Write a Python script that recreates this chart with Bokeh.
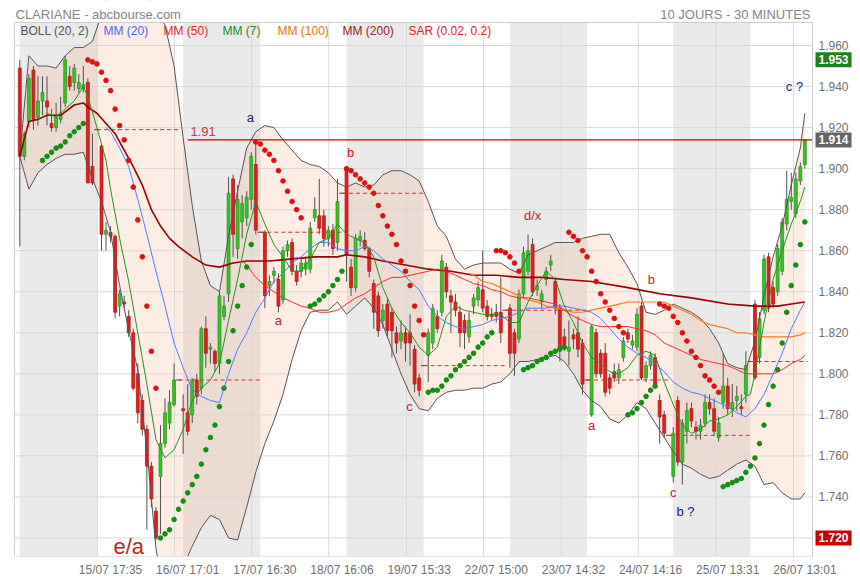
import numpy as np
from bokeh.plotting import figure
from bokeh.models import FixedTicker, Label
from bokeh.core.properties import value
from bokeh.embed import file_html
from bokeh.resources import INLINE

FONT = "Liberation Sans"

# ---------------- data ----------------
title_left = "CLARIANE - abcbourse.com"
title_right = "10 JOURS - 30 MINUTES"
x_labels = ["15/07 17:35", "16/07 17:01", "17/07 16:30", "18/07 16:06", "19/07 15:33",
            "22/07 15:00", "23/07 14:32", "24/07 14:16", "25/07 13:31", "26/07 13:01"]
x_grid_bars = [17.1, 34.1, 51.1, 68.1, 85.2, 102.2, 119.3, 136.3, 153.4, 170.5]
y_ticks = [1.720, 1.740, 1.760, 1.780, 1.800, 1.820, 1.840, 1.860, 1.880, 1.900, 1.920, 1.940, 1.960]
bars_per_day = 18
shaded_days = [0, 2, 4, 6, 8]

open_ = [
    1.949, 1.906, 1.923, 1.948, 1.925, 1.933, 1.933, 1.922, 1.920, 1.924, 1.932, 1.945, 1.942, 1.939, 1.939, 1.942, 1.901, 1.919,
    1.911, 1.868, 1.869, 1.867, 1.833, 1.835, 1.828, 1.820, 1.800, 1.787, 1.773, 1.755, 1.733, 1.750, 1.766, 1.776, 1.785, 1.797,
    1.783, 1.781, 1.780, 1.797, 1.793, 1.822, 1.812, 1.811, 1.805, 1.828, 1.839, 1.895, 1.861, 1.874, 1.876, 1.885, 1.902, 1.869,
    1.869, 1.843, 1.848, 1.846, 1.836, 1.860, 1.864, 1.850, 1.850, 1.851, 1.851, 1.876, 1.877, 1.877, 1.866, 1.870, 1.864, 1.888,
    1.900, 1.852, 1.842, 1.865, 1.865, 1.861, 1.844, 1.838, 1.826, 1.834, 1.830, 1.820, 1.816, 1.820, 1.820, 1.812, 1.798, 1.804,
    1.809, 1.815, 1.828, 1.830, 1.852, 1.838, 1.835, 1.830, 1.826, 1.818, 1.833, 1.836, 1.841, 1.833, 1.829, 1.830, 1.830, 1.831,
    1.832, 1.820, 1.817, 1.839, 1.850, 1.863, 1.841, 1.835, 1.846, 1.853, 1.845, 1.832, 1.818, 1.811, 1.819, 1.820, 1.815, 1.797,
    1.780, 1.820, 1.810, 1.810, 1.798, 1.801, 1.798, 1.808, 1.820, 1.814, 1.813, 1.833, 1.798, 1.804, 1.808, 1.787, 1.780, 1.770,
    1.750, 1.787, 1.757, 1.772, 1.783, 1.774, 1.772, 1.776, 1.786, 1.783, 1.769, 1.786, 1.794, 1.783, 1.787, 1.784, 1.790, 1.806,
    1.834, 1.808, 1.831, 1.857, 1.842, 1.840, 1.850, 1.873, 1.884, 1.878, 1.894, 1.902,
]
high = [
    1.953, 1.918, 1.946, 1.950, 1.945, 1.945, 1.945, 1.929, 1.932, 1.935, 1.955, 1.950, 1.951, 1.946, 1.950, 1.944, 1.917, 1.919,
    1.912, 1.874, 1.872, 1.868, 1.841, 1.838, 1.831, 1.822, 1.805, 1.790, 1.775, 1.757, 1.735, 1.775, 1.788, 1.792, 1.805, 1.797,
    1.790, 1.795, 1.798, 1.800, 1.823, 1.828, 1.815, 1.812, 1.840, 1.838, 1.896, 1.897, 1.892, 1.887, 1.889, 1.908, 1.913, 1.869,
    1.870, 1.848, 1.852, 1.849, 1.862, 1.865, 1.866, 1.853, 1.856, 1.857, 1.874, 1.886, 1.895, 1.880, 1.872, 1.873, 1.895, 1.888,
    1.901, 1.856, 1.868, 1.870, 1.869, 1.862, 1.846, 1.840, 1.834, 1.837, 1.832, 1.823, 1.826, 1.823, 1.829, 1.814, 1.800, 1.804,
    1.822, 1.834, 1.831, 1.858, 1.854, 1.841, 1.839, 1.833, 1.829, 1.830, 1.839, 1.845, 1.860, 1.836, 1.832, 1.834, 1.847, 1.831,
    1.834, 1.822, 1.841, 1.862, 1.868, 1.866, 1.846, 1.841, 1.852, 1.858, 1.847, 1.834, 1.822, 1.826, 1.822, 1.828, 1.817, 1.797,
    1.824, 1.822, 1.812, 1.815, 1.800, 1.805, 1.805, 1.818, 1.822, 1.819, 1.832, 1.835, 1.806, 1.811, 1.810, 1.790, 1.782, 1.770,
    1.774, 1.789, 1.778, 1.786, 1.786, 1.777, 1.778, 1.790, 1.790, 1.788, 1.779, 1.810, 1.798, 1.795, 1.794, 1.790, 1.811, 1.806,
    1.836, 1.830, 1.858, 1.859, 1.845, 1.863, 1.876, 1.899, 1.898, 1.898, 1.903, 1.914,
]
low = [
    1.862, 1.904, 1.920, 1.919, 1.921, 1.926, 1.921, 1.918, 1.918, 1.922, 1.930, 1.938, 1.938, 1.937, 1.937, 1.893, 1.892, 1.919,
    1.860, 1.860, 1.864, 1.827, 1.828, 1.832, 1.818, 1.792, 1.776, 1.770, 1.724, 1.735, 1.719, 1.722, 1.764, 1.773, 1.784, 1.797,
    1.761, 1.770, 1.776, 1.785, 1.790, 1.803, 1.805, 1.801, 1.800, 1.826, 1.835, 1.857, 1.856, 1.866, 1.872, 1.880, 1.868, 1.869,
    1.832, 1.838, 1.844, 1.830, 1.834, 1.857, 1.848, 1.843, 1.847, 1.848, 1.849, 1.874, 1.868, 1.862, 1.862, 1.858, 1.860, 1.888,
    1.845, 1.838, 1.840, 1.862, 1.860, 1.847, 1.822, 1.818, 1.822, 1.818, 1.808, 1.810, 1.812, 1.806, 1.804, 1.791, 1.789, 1.804,
    1.796, 1.812, 1.820, 1.828, 1.837, 1.820, 1.828, 1.813, 1.812, 1.815, 1.829, 1.833, 1.830, 1.826, 1.826, 1.825, 1.815, 1.831,
    1.803, 1.799, 1.815, 1.837, 1.848, 1.838, 1.838, 1.832, 1.843, 1.850, 1.829, 1.806, 1.811, 1.804, 1.812, 1.808, 1.790, 1.797,
    1.779, 1.798, 1.798, 1.789, 1.790, 1.796, 1.795, 1.806, 1.815, 1.812, 1.811, 1.797, 1.796, 1.802, 1.793, 1.766, 1.769, 1.770,
    1.747, 1.755, 1.746, 1.766, 1.774, 1.768, 1.768, 1.774, 1.780, 1.770, 1.767, 1.783, 1.780, 1.779, 1.782, 1.780, 1.786, 1.806,
    1.797, 1.805, 1.829, 1.830, 1.832, 1.838, 1.848, 1.870, 1.880, 1.876, 1.892, 1.900,
]
close = [
    1.906, 1.917, 1.944, 1.924, 1.933, 1.937, 1.930, 1.920, 1.925, 1.927, 1.953, 1.940, 1.949, 1.942, 1.941, 1.893, 1.893, 1.919,
    1.868, 1.870, 1.867, 1.830, 1.839, 1.834, 1.820, 1.793, 1.781, 1.773, 1.755, 1.739, 1.720, 1.766, 1.781, 1.786, 1.797, 1.797,
    1.782, 1.772, 1.797, 1.789, 1.822, 1.810, 1.813, 1.805, 1.838, 1.833, 1.888, 1.868, 1.885, 1.883, 1.886, 1.906, 1.870, 1.869,
    1.838, 1.845, 1.850, 1.833, 1.860, 1.863, 1.850, 1.845, 1.854, 1.854, 1.871, 1.880, 1.871, 1.866, 1.870, 1.861, 1.884, 1.888,
    1.858, 1.842, 1.866, 1.867, 1.861, 1.850, 1.830, 1.821, 1.831, 1.821, 1.821, 1.815, 1.820, 1.815, 1.815, 1.795, 1.792, 1.804,
    1.820, 1.832, 1.822, 1.855, 1.840, 1.835, 1.831, 1.820, 1.820, 1.826, 1.837, 1.842, 1.832, 1.828, 1.828, 1.828, 1.820, 1.831,
    1.810, 1.810, 1.839, 1.859, 1.860, 1.840, 1.843, 1.839, 1.850, 1.855, 1.832, 1.813, 1.814, 1.813, 1.817, 1.812, 1.795, 1.797,
    1.823, 1.800, 1.800, 1.791, 1.793, 1.798, 1.802, 1.816, 1.817, 1.816, 1.829, 1.798, 1.804, 1.809, 1.795, 1.779, 1.771, 1.770,
    1.771, 1.757, 1.776, 1.782, 1.777, 1.772, 1.775, 1.786, 1.783, 1.772, 1.776, 1.794, 1.783, 1.786, 1.789, 1.783, 1.804, 1.806,
    1.798, 1.827, 1.856, 1.832, 1.834, 1.861, 1.874, 1.885, 1.886, 1.895, 1.901, 1.914,
]
N = None
sar = [
    N, N, N, N, N,
    1.904, 1.906, 1.908, 1.910, 1.911, 1.913, 1.916, 1.918, 1.920, 1.922,
    1.953, 1.952, 1.951, 1.947, 1.943, 1.938, 1.929, 1.921, 1.914, 1.904, 1.891, 1.875, 1.857, 1.833, 1.811, 1.793,
    1.720, 1.722, 1.724, 1.729, 1.734, 1.738, 1.742, 1.746, 1.750, 1.756, 1.763, 1.769, 1.775, 1.784, 1.793,
    1.806, 1.821, 1.833, 1.843, 1.852, 1.863,
    1.913, 1.912, 1.909, 1.907, 1.904, 1.899, 1.894, 1.889, 1.884, 1.880, 1.876,
    N,
    1.833, 1.834, 1.836, 1.838, 1.840, 1.843, 1.846, 1.850,
    1.900, 1.899, 1.897, 1.895, 1.893, 1.891, 1.888, 1.882, 1.877, 1.872, 1.868, 1.863, 1.855, 1.850, 1.843,
    1.833, 1.826, 1.819,
    1.791, 1.792, 1.792, 1.794, 1.797, 1.799, 1.802, 1.804, 1.806, 1.808, 1.810, 1.813, 1.815, 1.818, 1.820,
    1.860, 1.860, 1.859, 1.857, 1.854, 1.850,
    1.802, 1.803, 1.804, 1.806, 1.807, 1.808, 1.810, 1.811, 1.812, 1.813,
    1.869, 1.867, 1.865, 1.860, 1.857, 1.850, 1.845, 1.839, 1.835, 1.831, 1.827, 1.823, 1.820,
    1.780, 1.781, 1.783, 1.786, 1.789, 1.792, 1.794,
    1.834, 1.833, 1.832, 1.828, 1.825, 1.820, 1.816, 1.811, 1.808, 1.804, 1.799, 1.797, 1.794, 1.791,
    1.745, 1.746, 1.747, 1.748, 1.749, 1.752, 1.755, 1.759, 1.766, 1.775, 1.785, 1.794, 1.802, 1.815,
    1.830, 1.843, 1.853, 1.863, 1.874,
]

boll_bars = [0, 2, 4, 6, 8, 10, 12, 14, 16, 18,
             20, 22, 24, 26, 28, 30, 32, 34, 36, 38,
             40, 42, 44, 46, 48, 50, 52, 54, 56, 58,
             60, 62, 64, 66, 68, 70, 72, 74, 76, 78,
             80, 82, 84, 86, 88, 90, 92, 94, 96, 98,
             100, 102, 104, 106, 108, 110, 112, 114, 116, 118,
             120, 122, 124, 126, 128, 130, 132, 134, 136, 138,
             140, 142, 144, 146, 148, 150, 152, 154, 156, 158,
             160, 162, 164, 166, 168, 170, 172, 173]
boll_upper = [1.906, 1.955, 1.950, 1.950, 1.949, 1.955, 1.959, 1.959, 1.962, 1.975,
              1.990, 2.000, 2.000, 1.995, 1.985, 1.977, 1.970, 1.950, 1.915, 1.882,
              1.855, 1.843, 1.840, 1.867, 1.889, 1.910, 1.918, 1.921, 1.920, 1.914,
              1.909, 1.904, 1.902, 1.901, 1.898, 1.893, 1.891, 1.893, 1.891, 1.892,
              1.897, 1.899, 1.899, 1.897, 1.894, 1.884, 1.872, 1.867, 1.856, 1.851,
              1.853, 1.854, 1.854, 1.854, 1.851, 1.849, 1.858, 1.860, 1.862, 1.864,
              1.864, 1.864, 1.866, 1.867, 1.868, 1.868, 1.859, 1.852, 1.844, 1.830,
              1.829, 1.831, 1.834, 1.832, 1.830, 1.827, 1.822, 1.815, 1.805, 1.803,
              1.802, 1.816, 1.838, 1.857, 1.872, 1.892, 1.910, 1.927]
boll_lower = [1.906, 1.890, 1.898, 1.902, 1.905, 1.907, 1.907, 1.908, 1.895, 1.884,
              1.869, 1.843, 1.821, 1.802, 1.763, 1.715, 1.690, 1.690, 1.706, 1.716,
              1.725, 1.731, 1.729, 1.720, 1.719, 1.735, 1.752, 1.766, 1.777, 1.790,
              1.807, 1.821, 1.830, 1.831, 1.831, 1.835, 1.829, 1.833, 1.837, 1.832,
              1.824, 1.812, 1.800, 1.790, 1.783, 1.782, 1.788, 1.791, 1.792, 1.792,
              1.793, 1.793, 1.795, 1.796, 1.800, 1.806, 1.806, 1.807, 1.808, 1.809,
              1.806, 1.800, 1.792, 1.787, 1.784, 1.778, 1.776, 1.780, 1.786, 1.783,
              1.776, 1.769, 1.762, 1.756, 1.754, 1.751, 1.749, 1.750, 1.753, 1.756,
              1.758, 1.755, 1.746, 1.747, 1.742, 1.739, 1.739, 1.742]

mm20_bars = [19, 20, 22, 24, 26, 28, 30, 32, 34, 36,
             38, 40, 42, 44, 46, 48, 50, 52, 54, 56,
             58, 60, 62, 64, 66, 68, 70, 72, 74, 76,
             78, 80, 82, 84, 86, 88, 90, 92, 94, 96,
             98, 100, 102, 104, 106, 108, 110, 112, 114, 116,
             118, 120, 122, 124, 126, 128, 130, 132, 134, 136,
             138, 140, 142, 144, 146, 148, 150, 152, 154, 156,
             158, 160, 161, 162, 164, 166, 168, 170, 172, 173]
mm20 = [1.920, 1.918, 1.910, 1.901, 1.885, 1.868, 1.850, 1.833, 1.815, 1.803,
        1.792, 1.789, 1.787, 1.786, 1.800, 1.812, 1.820, 1.830, 1.837, 1.845,
        1.849, 1.854, 1.857, 1.861, 1.864, 1.864, 1.861, 1.860, 1.860, 1.862,
        1.860, 1.856, 1.853, 1.850, 1.845, 1.841, 1.833, 1.828, 1.825, 1.823,
        1.822, 1.823, 1.824, 1.826, 1.827, 1.828, 1.830, 1.832, 1.832, 1.832,
        1.833, 1.833, 1.832, 1.831, 1.830, 1.827, 1.822, 1.817, 1.813, 1.810,
        1.808, 1.805, 1.801, 1.796, 1.793, 1.791, 1.790, 1.788, 1.786, 1.784,
        1.781, 1.779, 1.781, 1.783, 1.790, 1.800, 1.810, 1.822, 1.831, 1.835]

mm7_bars = [6, 8, 10, 12, 14, 15, 17, 19, 20, 22,
            24, 26, 28, 30, 32, 34, 36, 38, 40, 42,
            44, 46, 48, 50, 52, 54, 56, 58, 60, 62,
            64, 66, 68, 70, 72, 74, 76, 78, 80, 82,
            84, 86, 88, 90, 92, 94, 96, 98, 100, 102,
            104, 106, 108, 110, 112, 114, 116, 118, 120, 122,
            124, 126, 128, 130, 132, 134, 136, 138, 140, 142,
            144, 146, 148, 150, 152, 154, 156, 158, 160, 161,
            162, 164, 166, 168, 170, 172, 173]
mm7 = [1.927, 1.925, 1.929, 1.933, 1.940, 1.935, 1.920, 1.904, 1.890, 1.866,
       1.845, 1.820, 1.795, 1.768, 1.759, 1.763, 1.773, 1.787, 1.793, 1.797,
       1.805, 1.826, 1.846, 1.868, 1.884, 1.873, 1.863, 1.857, 1.850, 1.850,
       1.856, 1.864, 1.866, 1.873, 1.868, 1.866, 1.864, 1.857, 1.842, 1.832,
       1.825, 1.820, 1.813, 1.809, 1.813, 1.828, 1.833, 1.831, 1.830, 1.829,
       1.829, 1.829, 1.825, 1.825, 1.835, 1.843, 1.850, 1.846, 1.833, 1.825,
       1.815, 1.808, 1.805, 1.801, 1.800, 1.803, 1.809, 1.811, 1.809, 1.796,
       1.785, 1.775, 1.771, 1.773, 1.777, 1.778, 1.780, 1.784, 1.789, 1.790,
       1.800, 1.825, 1.846, 1.860, 1.873, 1.884, 1.891]

mm50_bars = [49, 50, 52, 54, 56, 58, 60, 62, 64, 66,
             68, 70, 72, 74, 76, 78, 80, 82, 84, 86,
             88, 90, 92, 94, 96, 98, 100, 102, 104, 106,
             108, 110, 112, 114, 116, 118, 120, 122, 124, 126,
             128, 130, 134, 136, 138, 140, 142, 144, 146, 148,
             150, 152, 154, 156, 158, 160, 162, 164, 166, 168,
             170, 172, 173]
mm50 = [1.855, 1.853, 1.847, 1.843, 1.840, 1.837, 1.835, 1.833, 1.832, 1.830,
        1.830, 1.831, 1.834, 1.837, 1.839, 1.842, 1.845, 1.847, 1.847, 1.848,
        1.849, 1.850, 1.851, 1.850, 1.848, 1.846, 1.844, 1.843, 1.841, 1.840,
        1.838, 1.837, 1.837, 1.836, 1.835, 1.834, 1.831, 1.828, 1.826, 1.824,
        1.823, 1.823, 1.823, 1.822, 1.821, 1.819, 1.815, 1.813, 1.811, 1.809,
        1.807, 1.806, 1.805, 1.804, 1.802, 1.800, 1.800, 1.800, 1.800, 1.802,
        1.805, 1.807, 1.809]

mm100_bars = [99, 100, 102, 104, 106, 108, 110, 112, 114, 116,
              118, 120, 122, 124, 126, 128, 130, 132, 134, 136,
              138, 140, 142, 144, 146, 148, 150, 152, 154, 156,
              158, 160, 162, 164, 166, 168, 170, 172, 173]
mm100 = [1.849, 1.848, 1.845, 1.844, 1.842, 1.840, 1.838, 1.836, 1.835, 1.833,
         1.832, 1.831, 1.830, 1.830, 1.831, 1.832, 1.833, 1.834, 1.835, 1.835,
         1.835, 1.835, 1.835, 1.833, 1.831, 1.829, 1.826, 1.824, 1.823, 1.822,
         1.820, 1.820, 1.819, 1.818, 1.818, 1.818, 1.818, 1.819, 1.820]

mm200_bars = [0, 2, 4, 6, 9, 12, 14, 15, 17, 19,
              21, 23, 25, 27, 29, 31, 33, 35, 38, 41,
              44, 47, 50, 55, 60, 65, 70, 72, 76, 80,
              85, 90, 95, 100, 105, 110, 115, 120, 126, 134,
              141, 148, 156, 162, 167, 170, 173]
mm200 = [1.906, 1.923, 1.924, 1.926, 1.926, 1.931, 1.932, 1.930, 1.927, 1.922,
         1.917, 1.909, 1.901, 1.892, 1.880, 1.872, 1.866, 1.862, 1.857, 1.853,
         1.852, 1.854, 1.855, 1.855, 1.856, 1.857, 1.857, 1.858, 1.857, 1.855,
         1.853, 1.851, 1.850, 1.848, 1.848, 1.847, 1.847, 1.846, 1.845, 1.842,
         1.839, 1.837, 1.834, 1.833, 1.833, 1.834, 1.835]

level_price = 1.914
level_text = "1.91"
level_start_bar = 37
box_high = 1.953
box_last = 1.914
box_low = 1.720

wave_texts = ["a", "b", "a", "c", "d/x", "b", "a", "c", "b ?", "c ?", "e/a"]
wave_bars = [50.8, 72.9, 57.0, 85.9, 113.0, 139.2, 126.0, 144.0, 146.7, 170.7, 24.0]
wave_prices = [1.925, 1.908, 1.826, 1.784, 1.877, 1.846, 1.775, 1.742, 1.733, 1.940, 1.716]
wave_colors = ["#1c1c8a", "#cc2020", "#cc2020", "#cc2020", "#cc2020", "#cc2020",
               "#cc2020", "#cc2020", "#1c1c8a", "#1c1c8a", "#cc2020"]
wave_sizes = ["13px"] * 10 + ["22px"]

legend_items = ["BOLL (20, 2)", "MM (20)", "MM (50)", "MM (7)", "MM (100)", "MM (200)", "SAR (0.02, 0.2)"]
legend_colors = ["#555555", "#3d6cf0", "#ee2222", "#208a20", "#f07010", "#992020", "#dd2222"]

for arr in (open_, high, low, close, sar):
    assert len(arr) == 174, len(arr)
assert len(boll_bars) == len(boll_upper) == len(boll_lower)
assert len(mm20_bars) == len(mm20)
assert len(mm7_bars) == len(mm7)
assert len(mm50_bars) == len(mm50)
assert len(mm100_bars) == len(mm100)
assert len(mm200_bars) == len(mm200)

# ---------------- layout helpers (image pixel -> data, for placement only) ----------------
BAR0_PX, BAR_PX = 19.3, 4.538
Y0_PX, Y_PX = 45.0, 2052.0


def px_x(px):
    return (px - BAR0_PX) / BAR_PX


def px_y(py):
    return 1.960 - (py - Y0_PX) / Y_PX


# drawing area = x 0..856, y 0..556 ; chart box = x 14..812, y 22..556
XR = (px_x(0), px_x(856))
YR = (px_y(556), px_y(0))
CL, CR = px_x(14), px_x(812)
CB, CT = YR[0], px_y(22)

p = figure(frame_width=856, frame_height=556, x_range=XR, y_range=YR,
           y_axis_location=None, toolbar_location=None, output_backend="svg",
           min_border_left=0, min_border_right=0, min_border_top=0, min_border_bottom=20)
p.background_fill_color = "white"
p.border_fill_color = "white"
p.outline_line_color = None
p.grid.visible = False

# x axis (library axis, labels at tick positions)
label_ticks = [int(round(b + 2.9)) for b in x_grid_bars]
p.xaxis.ticker = FixedTicker(ticks=label_ticks)
p.xaxis.major_label_overrides = {t: s for t, s in zip(label_ticks, x_labels)}
p.xaxis.axis_line_color = None
p.xaxis.major_tick_line_color = None
p.xaxis.minor_tick_line_color = None
p.xaxis.major_tick_out = 0
p.xaxis.major_tick_in = 0
p.xaxis.minor_tick_out = 0
p.xaxis.major_label_text_font = FONT
p.xaxis.major_label_text_font_size = "12px"
p.xaxis.major_label_text_color = "#707070"
p.xaxis.major_label_standoff = 6

# shaded days
day_left = [d * bars_per_day for d in shaded_days]
day_right = [d * bars_per_day + bars_per_day - 1 for d in shaded_days]
p.quad(left=day_left, right=day_right, bottom=CB, top=CT,
       fill_color="#eaeaea", line_color=None, level="image")

# Bollinger fill
p.varea(x=boll_bars, y1=boll_lower, y2=boll_upper, fill_color="#f0905a",
        fill_alpha=0.16, level="image")

# grid inside the chart box
p.segment(x0=CL, x1=CR, y0=y_ticks, y1=y_ticks, line_color="#d9d9d9", line_width=1, level="underlay")
p.segment(x0=x_grid_bars, x1=x_grid_bars, y0=CB, y1=CT, line_color="#d9d9d9", line_width=1, level="underlay")

# candles
n = len(close)
idx = np.arange(n)
o, h, lo, c = (np.array(a, dtype=float) for a in (open_, high, low, close))
doji = h == lo
reg = ~doji
col = np.where(c >= o, "#3cbf2c", "#e02020")
lcol = np.where(c >= o, "#2a9a20", "#b81818")
p.segment(x0=idx[reg], y0=lo[reg], x1=idx[reg], y1=h[reg], line_color="#505050", line_width=1)
p.vbar(x=idx[reg], width=0.64, top=np.maximum(o, c)[reg], bottom=np.minimum(o, c)[reg],
       fill_color=col[reg], line_color=lcol[reg], line_width=0.8)
p.segment(x0=idx[doji] - 0.6, y0=c[doji], x1=idx[doji] + 0.6, y1=c[doji],
          line_color="#444444", line_width=1)

# previous-close dashed lines
pc_bars = idx[doji]
pc_x0 = [float(b) for b in pc_bars]
pc_x1 = [min(float(b) + bars_per_day, n - 0.4) for b in pc_bars]
pc_y = [c[b] for b in pc_bars]
p.segment(x0=pc_x0, y0=pc_y, x1=pc_x1, y1=pc_y, line_color="#e02828",
          line_width=1, line_dash="4 3")

# indicators
p.line(boll_bars, boll_upper, line_color="#555555", line_width=1)
p.line(boll_bars, boll_lower, line_color="#555555", line_width=1)
p.line(mm200_bars, mm200, line_color="#9a0000", line_width=1.6)
p.line(mm100_bars, mm100, line_color="#ff7a1a", line_width=1.2)
p.line(mm50_bars, mm50, line_color="#ff2a2a", line_width=1)
p.line(mm20_bars, mm20, line_color="#4d7cff", line_width=1)
p.line(mm7_bars, mm7, line_color="#1e951e", line_width=1)

# level line
p.segment(x0=[level_start_bar], y0=[level_price], x1=[CR], y1=[level_price],
          line_color="#cc0000", line_width=1.3)

# SAR dots
s = np.array([np.nan if v is None else v for v in sar], dtype=float)
ok = ~np.isnan(s)
scol = np.where(s > c, "#dd1111", "#128f12")
p.scatter(idx[ok], s[ok], size=4.6, marker="circle", fill_color=scol[ok], line_color=scol[ok])

# mask above the chart box (title band), then chart border
p.quad(left=XR[0], right=XR[1], bottom=CT, top=YR[1] + 0.01, fill_color="white", line_color=None)
p.quad(left=CL, right=CR, bottom=CB, top=CT, fill_color=None, line_color="#cfcfcf", line_width=1)

# y tick labels, right of the chart box
p.text(x=[CR] * len(y_ticks), y=y_ticks, text=[f"{t:.3f}" for t in y_ticks],
       x_offset=6, text_baseline="middle", text_align="left",
       text_font=value(FONT), text_font_size="12px", text_color="#707070")


# ---------------- texts ----------------
def add_label(x, y, text, color, size="12px", align="left", baseline="middle",
              bold=False, bg=None, x_offset=0, pad=0):
    lab = Label(x=x, y=y, text=text, text_color=color, text_font=FONT,
                text_font_size=size, text_align=align, text_baseline=baseline,
                text_font_style="bold" if bold else "normal", x_offset=x_offset)
    if bg is not None:
        lab.background_fill_color = bg
        lab.padding = pad
    p.add_layout(lab)


add_label(px_x(15), px_y(14), title_left, "#858585", size="13px")
add_label(px_x(810), px_y(14), title_right, "#858585", size="13px", align="right")

legend_px = [20, 103, 163, 222, 277, 342, 408]
for tx, cl, xp in zip(legend_items, legend_colors, legend_px):
    add_label(px_x(xp), px_y(30), tx, cl, size="12px")

add_label(px_x(190), px_y(131), level_text, "#c83a3a", size="13px")

for tx, bx, py, cl, sz in zip(wave_texts, wave_bars, wave_prices, wave_colors, wave_sizes):
    add_label(bx, py, tx, cl, size=sz, align="center")

for val, bg in ((box_high, "#1c801c"), (box_last, "#646464"), (box_low, "#c80000")):
    add_label(CR, val, f"{val:.3f}", "white", size="12px", bold=True, bg=bg,
              x_offset=3, pad=3)

open("out.html", "w").write(file_html(p, INLINE))
